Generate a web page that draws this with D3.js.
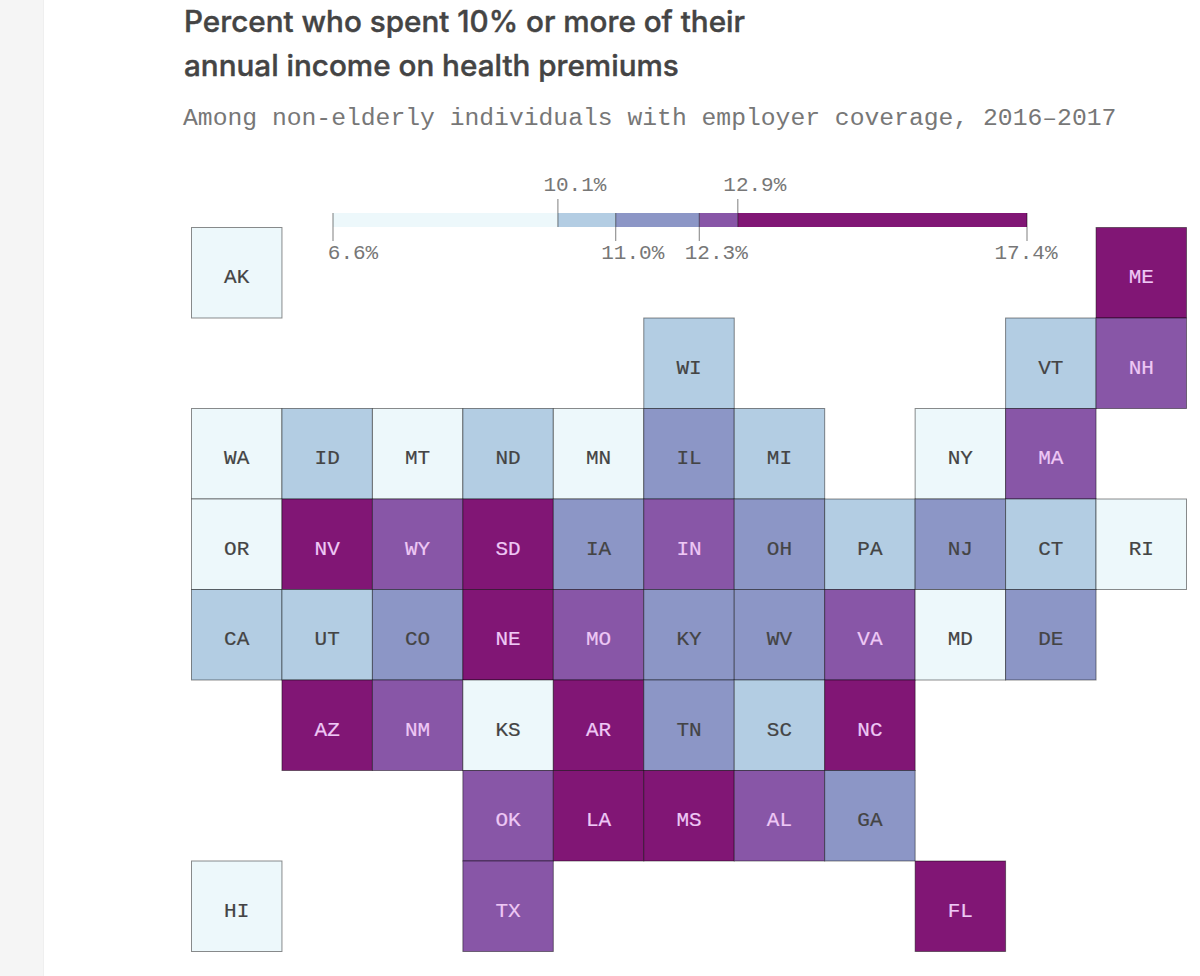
<!DOCTYPE html>
<html><head><meta charset="utf-8">
<script src="https://cdn.jsdelivr.net/npm/d3@7"></script>
<style>html,body{margin:0;padding:0;background:#fff}svg{display:block}</style>
</head><body><svg id="c" width="1200" height="976"></svg>
<script>
const titleLines = ["Percent who spent 10% or more of their","annual income on health premiums"];
const subtitle = "Among non-elderly individuals with employer coverage, 2016–2017";
const breaks = [6.6,10.1,11.0,12.3,12.9,17.4];
const breaksAbove = [10.1,12.9];
const colors = ["#edf8fb","#b3cde3","#8c96c6","#8856a7","#811675"];
const states = ["AK","ME","WI","VT","NH","WA","ID","MT","ND","MN","IL","MI","NY","MA","OR","NV","WY","SD","IA","IN","OH","PA","NJ","CT","RI","CA","UT","CO","NE","MO","KY","WV","VA","MD","DE","AZ","NM","KS","AR","TN","SC","NC","OK","LA","MS","AL","GA","HI","TX","FL"];
const cols   = [0,10,5,9,10,0,1,2,3,4,5,6,8,9,0,1,2,3,4,5,6,7,8,9,10,0,1,2,3,4,5,6,7,8,9,1,2,3,4,5,6,7,3,4,5,6,7,0,3,8];
const rows   = [0,0,1,1,1,2,2,2,2,2,2,2,2,2,3,3,3,3,3,3,3,3,3,3,3,4,4,4,4,4,4,4,4,4,4,5,5,5,5,5,5,5,6,6,6,6,6,7,7,7];
const values = [9.6,14.2,10.6,10.5,12.6,9.4,10.7,9.8,10.4,9.7,11.6,10.8,9.9,12.5,9.3,14.6,12.7,13.8,11.8,12.6,11.9,10.9,11.4,10.6,9.5,10.6,10.4,11.5,14.0,12.5,12.1,12.2,12.4,9.2,11.7,13.6,12.6,10.0,14.4,12.0,10.8,13.4,12.7,15.1,17.4,12.8,11.3,6.6,12.6,13.2];

const svg = d3.select("#c");
svg.append("rect").attr("x",0).attr("y",0).attr("width",43).attr("height",976).attr("fill","#f5f5f5");
svg.append("rect").attr("x",43).attr("y",0).attr("width",1).attr("height",976).attr("fill","#efefef");

const titleFont = "Inter, sans-serif", mono = "'Liberation Mono', monospace";
svg.selectAll("text.t").data(titleLines).join("text").attr("class","t")
  .attr("x",184).attr("y",(d,i)=>[32,76][i])
  .attr("font-family",titleFont).attr("font-weight",500).attr("font-size",29.65).attr("fill","#444")
  .attr("stroke","#444").attr("stroke-width",0.4)
  .text(d=>d);
svg.append("text").attr("x",183).attr("y",125).attr("font-family",mono).attr("font-size",24.7).attr("fill","#777").text(subtitle);

const colorScale = d3.scaleThreshold().domain(breaks.slice(1,5)).range(colors);
const lx = d3.scaleLinear().domain([breaks[0],breaks[5]]).range([333,1027]);
const above = d => breaksAbove.includes(d);
const legend = svg.append("g");
legend.selectAll("rect").data(d3.pairs(breaks)).join("rect")
  .attr("x",d=>lx(d[0])).attr("width",d=>lx(d[1])-lx(d[0])).attr("y",213).attr("height",14)
  .attr("fill",(d,i)=>colors[i]);
legend.selectAll("line").data(breaks).join("line")
  .attr("x1",d=>lx(d)).attr("x2",d=>lx(d))
  .attr("y1",d=>above(d)?199:213).attr("y2",d=>above(d)?227:241)
  .attr("stroke","#000").attr("stroke-opacity",.5).attr("stroke-width",1);
legend.selectAll("text").data(breaks).join("text")
  .attr("x",d=>lx(d)+(d===6.6?20:d===17.4?-1:17))
  .attr("y",d=>above(d)?191:259)
  .attr("text-anchor","middle").attr("font-family",mono).attr("font-size",21).attr("fill","#777")
  .text(d=>d.toFixed(1)+"%");

const x = d3.scaleBand().domain(d3.range(11)).range([191.5,1186.5]);
const y = d3.scaleBand().domain(d3.range(8)).range([227.5,951.5]);
const tiles = svg.append("g").selectAll("g").data(states).join("g")
  .attr("transform",(d,i)=>`translate(${x(cols[i])},${y(rows[i])})`);
tiles.append("rect").attr("width",x.bandwidth()).attr("height",y.bandwidth())
  .attr("fill",(d,i)=>colorScale(values[i])).attr("stroke","#000").attr("stroke-opacity",.45).attr("stroke-width",1);
const labelColor = (d,i)=>colors.indexOf(colorScale(values[i]))<3?"#444":"#eec8f5";
tiles.append("text").attr("x",x.bandwidth()/2).attr("y",y.bandwidth()/2+10.5)
  .attr("text-anchor","middle").attr("font-family",mono).attr("font-size",21)
  .attr("fill",labelColor).attr("stroke",labelColor).attr("stroke-width",0.2)
  .text(d=>d);
</script></body></html>
